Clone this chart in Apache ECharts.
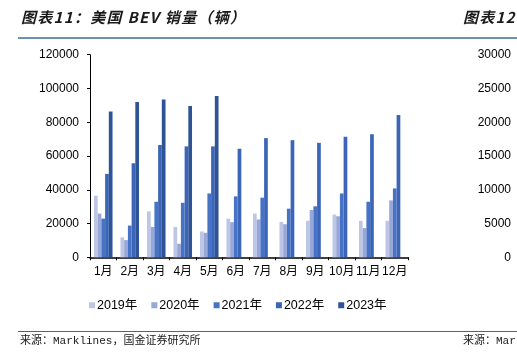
<!DOCTYPE html>
<html>
<head>
<meta charset="utf-8">
<script src="https://cdn.jsdelivr.net/npm/echarts@6/dist/echarts.min.js"></script>
<style>
    html, body { margin: 0; padding: 0; background: #fff; }
    #wrap { position: relative; width: 517px; height: 353px; overflow: hidden; }
    #chart { width: 517px; height: 353px; }
    .fig-title {
        position: absolute; top: 6px; margin: 0;
        font: bold 15px "Noto Sans CJK SC", sans-serif;
        letter-spacing: 1.3px;
        color: #1a1a1a; white-space: nowrap;
        transform: skewX(-14deg); transform-origin: left bottom;
    }
</style>
</head>
<body>
<div id="wrap">
    <div id="chart"></div>
    <div class="fig-title" style="left:20px">图表11：美国 BEV 销量（辆）</div>
    <div class="fig-title" style="left:462px">图表12：</div>
</div>
<script>
// 月份
const months = ['1月', '2月', '3月', '4月', '5月', '6月', '7月', '8月', '9月', '10月', '11月', '12月'];

// 各年份月度销量（辆）
const sales2019 = [36500, 11800, 27200, 18000, 15300, 22900, 25900, 21000, 21600, 25300, 21600, 21600];
const sales2020 = [25900, 10200, 18000, 8000, 14500, 20800, 22400, 19600, 28000, 24300, 17300, 33700];
const sales2021 = [22900, 18800, 32900, 32300, 37800, 36100, 35300, 28800, 30200, 37800, 32900, 40800];
const sales2022 = [49400, 55700, 66500, 65700, 65700, 64300, 70600, 69400, 67800, 71400, 72900, 84300];
const sales2023 = [86300, 92000, 93500, 89600, 95500, null, null, null, null, null, null, null];

const seriesNames = ['2019年', '2020年', '2021年', '2022年', '2023年'];
const seriesColors = ['#BDC7E5', '#97A7D7', '#4673C5', '#3C65B8', '#2E5496'];

// 右侧相邻图表的纵轴（被截断）
const rightAxisMax = 30000;
const rightAxisStep = 5000;

const chart = echarts.init(document.getElementById('chart'));

const allData = [sales2019, sales2020, sales2021, sales2022, sales2023];
const series = allData.map((d, i) => ({
    name: seriesNames[i],
    type: 'bar',
    xAxisIndex: 0,
    yAxisIndex: 0,
    data: d,
    barGap: '0%',
    barCategoryGap: '30%',
    itemStyle: { color: seriesColors[i] }
}));

const axisFont = { fontFamily: 'Liberation Sans, Noto Sans CJK SC', fontSize: 12, color: '#000' };
const plainNum = v => String(v);

chart.setOption({
    animation: false,
    color: seriesColors,
    grid: [
        { left: 90, right: 109, top: 54.7, bottom: 95.7 },
        { left: 512, width: 1, top: 54.7, bottom: 95.7 }
    ],
    legend: {
        data: seriesNames,
        left: 84,
        top: 294,
        itemWidth: 6,
        itemHeight: 6,
        itemGap: 14,
        icon: 'rect',
        textStyle: Object.assign({}, axisFont, { fontSize: 12.5, padding: [0, 0, 0, -3] })
    },
    xAxis: [{
        type: 'category',
        gridIndex: 0,
        data: months,
        axisLine: { lineStyle: { color: '#000', width: 1.5 } },
        axisTick: { show: true, length: 3, lineStyle: { color: '#000' } },
        axisLabel: Object.assign({}, axisFont, { interval: 0, margin: 8 })
    }, {
        type: 'category',
        gridIndex: 1,
        data: months,
        show: false
    }],
    yAxis: [{
        type: 'value',
        gridIndex: 0,
        min: 0,
        max: 120000,
        interval: 20000,
        splitLine: { show: false },
        axisLine: { show: true, lineStyle: { color: '#000', width: 1 } },
        axisTick: { show: true, length: 3, lineStyle: { color: '#000' } },
        axisLabel: Object.assign({}, axisFont, { margin: 11, formatter: plainNum })
    }, {
        type: 'value',
        gridIndex: 1,
        min: 0,
        max: rightAxisMax,
        interval: rightAxisStep,
        splitLine: { show: false },
        axisLine: { show: false },
        axisTick: { show: false },
        axisLabel: Object.assign({}, axisFont, { margin: 1, formatter: plainNum })
    }],
    series: series,
    graphic: [
        {
            type: 'line',
            shape: { x1: 18, y1: 38, x2: 517, y2: 38 },
            style: { stroke: '#3B6B93', lineWidth: 1.6 }
        },
        {
            type: 'line',
            shape: { x1: 18, y1: 331.5, x2: 517, y2: 331.5 },
            style: { stroke: '#3B6B93', lineWidth: 1 }
        },
        {
            type: 'text', left: 20, top: 336,
            style: {
                text: '来源：Marklines，国金证券研究所',
                font: '11px "Liberation Mono", "Noto Sans CJK SC"',
                fill: '#1a1a1a'
            }
        },
        {
            type: 'text', left: 463, top: 336,
            style: {
                text: '来源：Marklines',
                font: '11px "Liberation Mono", "Noto Sans CJK SC"',
                fill: '#1a1a1a'
            }
        }
    ]
});
</script>
</body>
</html>
